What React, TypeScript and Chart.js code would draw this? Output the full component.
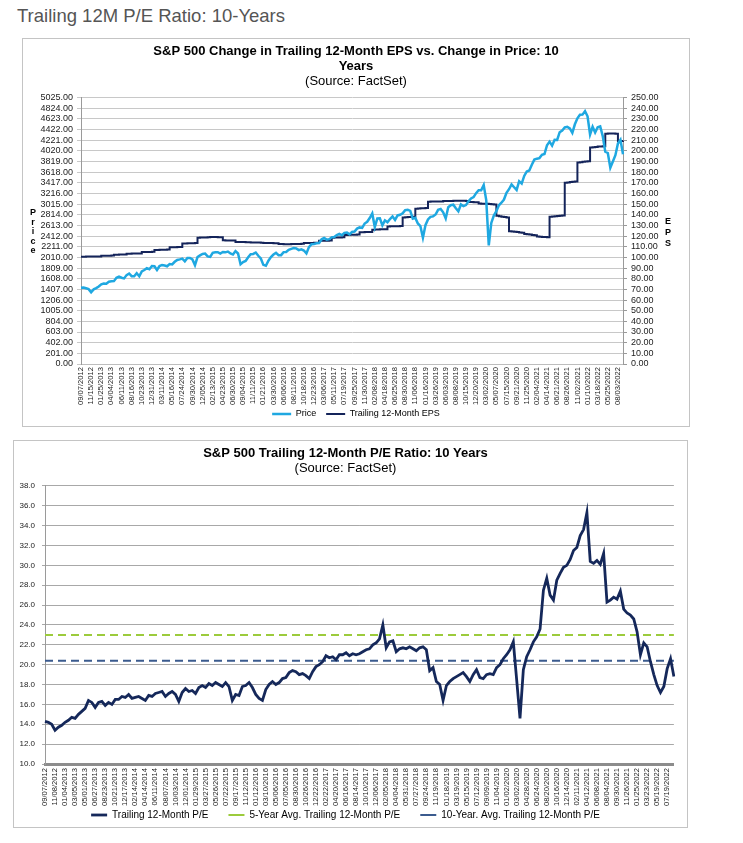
import { useEffect, useRef } from "react";
import { Chart, registerables } from "chart.js";

Chart.register(...registerables);

const FONT = "'Liberation Sans', Arial, sans-serif";

// ---------- Chart 1 data ----------
const priceTickLabels = [
  "09/07/2012", "11/15/2012", "01/25/2013", "04/04/2013", "06/11/2013", "08/16/2013", "10/23/2013", "12/31/2013",
  "03/11/2014", "05/16/2014", "07/24/2014", "09/30/2014", "12/05/2014", "02/13/2015", "04/23/2015", "06/30/2015",
  "09/04/2015", "11/11/2015", "01/21/2016", "03/30/2016", "06/06/2016", "08/11/2016", "10/18/2016", "12/23/2016",
  "03/06/2017", "05/11/2017", "07/19/2017", "09/25/2017", "11/30/2017", "02/08/2018", "04/18/2018", "06/25/2018",
  "08/30/2018", "11/06/2018", "01/16/2019", "03/26/2019", "06/03/2019", "08/08/2019", "10/15/2019", "12/20/2019",
  "03/02/2020", "05/07/2020", "07/15/2020", "09/21/2020", "11/25/2020", "02/04/2021", "04/14/2021", "06/21/2021",
  "08/26/2021", "11/02/2021", "01/10/2022", "03/18/2022", "05/25/2022", "08/03/2022",
];
const pointsPerPriceLabel = 4;

const priceValues = [
  1437, 1441, 1428, 1412, 1353, 1407, 1430, 1461, 1503, 1518, 1515, 1552, 1559, 1562, 1626, 1649,
  1626, 1613, 1676, 1706, 1655, 1653, 1710, 1655, 1746, 1771, 1807, 1786, 1848, 1844, 1773, 1847,
  1867, 1857, 1842, 1884, 1878, 1927, 1962, 1972, 1987, 1936, 2000, 1998, 1972, 1862, 2017, 2048,
  2075, 2082, 2028, 2021, 2097, 2108, 2108, 2081, 2112, 2105, 2120, 2084, 2063, 2128, 2083, 1880,
  1921, 1943, 2013, 2071, 2075, 2102, 2041, 1990, 1869, 1852, 1948, 2015, 2063, 2094, 2051, 2052,
  2109, 2113, 2152, 2170, 2185, 2180, 2147, 2161, 2139, 2085, 2203, 2259, 2263, 2275, 2279, 2351,
  2375, 2345, 2353, 2388, 2394, 2430, 2453, 2429, 2473, 2480, 2444, 2488, 2497, 2553, 2575, 2565,
  2648, 2681, 2751, 2839, 2581, 2744, 2747, 2614, 2708, 2672, 2733, 2782, 2717, 2801, 2813, 2840,
  2901, 2908, 2885, 2741, 2755, 2650, 2600, 2380, 2616, 2724, 2774, 2783, 2818, 2907, 2924, 2860,
  2744, 2954, 2993, 3004, 2938, 2878, 3007, 2977, 2996, 3067, 3120, 3146, 3221, 3275, 3276, 3374,
  3090, 2237, 2659, 2799, 2882, 2992, 3041, 3100, 3227, 3295, 3385, 3332, 3281, 3446, 3401, 3545,
  3630, 3647, 3756, 3853, 3871, 3881, 3943, 3959, 4124, 4192, 4116, 4226, 4224, 4370, 4401, 4460,
  4470, 4443, 4357, 4519, 4631, 4698, 4701, 4766, 4670, 4327, 4471, 4363, 4463, 4481, 4297, 4001,
  3978, 3700, 3818, 3937, 4155, 4228, 3955,
];

const epsValues = [
  100.6, 100.6,
  100.8, 100.8, 100.9, 100.8, 100.9, 100.9,
  101.5, 101.5, 101.6, 101.6, 101.7,
  102.5, 102.5, 102.6, 102.6, 102.7,
  103.5, 103.5, 103.6, 103.6, 103.7, 103.7,
  105.0, 105.0, 105.1, 105.1, 105.2,
  107.0, 107.0, 107.1, 107.2, 107.2, 107.3,
  109.5, 109.6, 109.6, 109.7, 109.8,
  113.0, 113.1, 113.2, 113.2, 113.3, 113.4,
  118.5, 118.6, 118.6, 118.7, 118.8,
  119.0, 119.1, 119.0, 118.9, 118.8,
  116.0, 115.9, 115.9, 115.8, 115.8,
  114.5, 114.5, 114.4, 114.4, 114.3, 114.3,
  114.0, 114.0, 113.9, 113.9, 113.8,
  113.5, 113.5, 113.4, 113.4, 113.3, 113.3,
  112.5, 112.5, 112.4, 112.4, 112.4,
  112.5, 112.5, 112.6, 112.6, 112.7,
  113.5, 113.5, 113.6, 113.6, 113.7, 113.7,
  115.5, 115.6, 115.6, 115.7, 115.8,
  118.5, 118.6, 118.7, 118.7, 118.8,
  121.0, 121.1, 121.2, 121.2, 121.3, 121.4,
  123.5, 123.6, 123.7, 123.8, 123.8,
  126.0, 126.1, 126.2, 126.3, 126.3, 126.4,
  129.0, 129.1, 129.2, 129.3, 129.3, 129.4,
  137.5, 137.6, 137.8, 137.9, 138.0,
  145.7, 145.8, 146.0, 146.1, 146.2,
  152.2, 152.3, 152.4, 152.4, 152.5, 152.5,
  152.8, 152.8, 152.9, 152.9, 153.0,
  153.0, 153.1, 153.1, 153.0, 152.9,
  152.0, 151.9, 151.8, 151.7,
  150.5, 150.4, 150.3, 150.2, 150.0, 149.8, 149.6,
  139.0, 138.6, 138.2, 137.8, 137.5,
  124.5, 124.2, 124.0, 123.7, 123.4, 123.2,
  122.0, 121.7, 121.4, 121.1, 120.8,
  119.5, 119.3, 119.1, 119.0, 118.9,
  138.0, 138.3, 138.6, 138.8, 139.0, 139.2,
  170.0, 170.3, 170.6, 170.9, 171.2,
  189.0, 189.3, 189.6, 189.9, 190.2,
  203.0, 203.3, 203.6, 203.9, 204.1, 204.3,
  216.0, 216.2, 216.3, 216.2, 216.0,
  209.0, 209.2, 209.4,
];

const priceAxisTicks = [
  0, 201, 402, 603, 804, 1005, 1206, 1407, 1608, 1809, 2010, 2211, 2412, 2613, 2814, 3015, 3216,
  3417, 3618, 3819, 4020, 4221, 4422, 4623, 4824, 5025,
];
const epsAxisTicks = [
  0, 10, 20, 30, 40, 50, 60, 70, 80, 90, 100, 110, 120, 130, 140, 150, 160, 170, 180, 190, 200,
  210, 220, 230, 240, 250,
];

// ---------- Chart 2 data ----------
const peTickLabels = [
  "09/07/2012", "11/08/2012", "01/04/2013", "03/05/2013", "05/01/2013", "06/27/2013", "08/23/2013", "10/21/2013",
  "12/17/2013", "02/14/2014", "04/14/2014", "06/11/2014", "08/07/2014", "10/03/2014", "12/01/2014", "01/29/2015",
  "03/27/2015", "05/26/2015", "07/22/2015", "09/17/2015", "11/12/2015", "01/12/2016", "03/10/2016", "05/06/2016",
  "07/05/2016", "08/30/2016", "10/26/2016", "12/22/2016", "02/22/2017", "04/20/2017", "06/16/2017", "08/14/2017",
  "10/10/2017", "12/06/2017", "02/05/2018", "04/04/2018", "05/31/2018", "07/27/2018", "09/24/2018", "11/19/2018",
  "01/18/2019", "03/19/2019", "05/15/2019", "07/12/2019", "09/09/2019", "11/04/2019", "01/02/2020", "03/02/2020",
  "04/28/2020", "06/24/2020", "08/20/2020", "10/16/2020", "12/14/2020", "02/11/2021", "04/12/2021", "06/08/2021",
  "08/04/2021", "09/30/2021", "11/26/2021", "01/25/2022", "03/23/2022", "05/19/2022", "07/19/2022",
];
const pointsPerPeLabel = 3;

const peValues = [
  14.3, 14.2, 14.0, 13.4, 13.7, 13.9, 14.2, 14.4, 14.7, 14.6, 15.0, 15.3, 15.6, 16.4, 16.2,
  15.7, 16.2, 16.3, 15.9, 16.2, 16.0, 16.5, 16.5, 16.8, 16.7, 17.0, 16.6, 16.7, 16.8, 16.6,
  16.4, 16.9, 16.8, 17.1, 17.2, 17.3, 16.8, 17.1, 17.3, 17.0, 16.3, 17.2, 17.6, 17.3, 17.4,
  17.1, 17.7, 17.9, 17.7, 18.1, 17.9, 18.2, 18.0, 17.8, 18.2, 17.8, 16.4, 17.0, 16.9, 17.8,
  17.9, 18.2, 17.7, 17.0, 16.6, 16.4, 17.5, 18.0, 18.3, 18.0, 18.2, 18.6, 18.7, 19.2, 19.4,
  19.3, 19.0, 19.1, 18.9, 18.6, 19.3, 19.8, 20.0, 20.3, 20.9, 20.7, 20.8, 20.5, 21.0, 21.0,
  21.2, 20.9, 21.1, 21.0, 21.1, 21.3, 21.5, 21.6, 22.0, 22.2, 22.6, 24.0, 21.7, 22.3, 22.4,
  21.3, 21.6, 21.7, 21.6, 21.8, 21.6, 21.4, 21.7, 21.8, 21.5, 19.4, 19.7, 18.3, 18.0, 16.4,
  17.9, 18.3, 18.6, 18.8, 19.0, 19.2, 18.8, 18.3, 19.0, 19.5, 18.7, 18.6, 19.0, 19.1, 19.0,
  19.7, 20.0, 20.6, 21.0, 21.5, 22.3, 18.5, 14.6, 19.5, 20.8, 21.5, 22.3, 22.8, 23.6, 27.5,
  28.7, 27.0, 26.5, 28.5, 29.2, 29.8, 30.0, 30.6, 31.5, 31.8, 33.0, 33.6, 35.3, 30.4, 30.2,
  30.5, 30.1, 31.2, 26.3, 26.5, 26.8, 26.6, 27.4, 25.6, 25.2, 25.0, 24.6, 23.3, 21.0, 22.2,
  21.8, 20.3, 19.0, 17.9, 17.2, 17.8, 19.6, 20.6, 18.8,
];
const fiveYearAvgPE = 23.0;
const tenYearAvgPE = 20.4;
const peAxisTicks = [10, 12, 14, 16, 18, 20, 22, 24, 26, 28, 30, 32, 34, 36, 38];

function buildCategoryLabels(tickLabels: string[], perLabel: number, total: number): string[] {
  const out: string[] = [];
  for (let i = 0; i < total; i++) {
    out.push(i % perLabel === 0 && tickLabels[i / perLabel] ? tickLabels[i / perLabel] : "");
  }
  return out;
}

const stackedAxisTitles = {
  id: "stackedAxisTitles",
  afterDraw(chart: any, _args: any, opts: any) {
    const { ctx, chartArea } = chart;
    (opts.items || []).forEach((item: any) => {
      ctx.save();
      ctx.font = item.font;
      ctx.fillStyle = item.color;
      ctx.textAlign = "center";
      ctx.textBaseline = "middle";
      const letters = item.text.split("");
      const cy = (chartArea.top + chartArea.bottom) / 2 + (item.dy || 0);
      const start = cy - ((letters.length - 1) * item.lineHeight) / 2;
      const x = item.side === "left" ? item.offset : chart.width - item.offset;
      letters.forEach((ch: string, i: number) => ctx.fillText(ch, x, start + i * item.lineHeight));
      ctx.restore();
    });
  },
};

// x-axis: fixed height, rotated labels allowed to run below the axis box
function fixXAxis(height: number) {
  return (s: any) => {
    s.height = height;
    s._computeLabelArea = () => null;
  };
}

function PriceEpsChart() {
  const ref = useRef<HTMLCanvasElement | null>(null);
  useEffect(() => {
    if (!ref.current) return;
    const labels = buildCategoryLabels(priceTickLabels, pointsPerPriceLabel, priceValues.length);
    const chart = new Chart(ref.current, {
      type: "line",
      data: {
        labels,
        datasets: [
          {
            label: "Price",
            data: priceValues,
            borderColor: "#1fa8e1",
            backgroundColor: "#1fa8e1",
            borderWidth: 2.5,
            pointRadius: 0,
            yAxisID: "y",
          },
          {
            label: "Trailing 12-Month EPS",
            data: epsValues,
            borderColor: "#14245a",
            backgroundColor: "#14245a",
            borderWidth: 2,
            pointRadius: 0,
            stepped: true,
            yAxisID: "y1",
          },
        ],
      },
      plugins: [stackedAxisTitles],
      options: {
        responsive: false,
        animation: false,
        layout: { padding: 0 },
        plugins: {
          title: {
            display: true,
            text: ["S&P 500 Change in Trailing 12-Month EPS vs. Change in Price: 10", "Years"],
            color: "#000",
            font: { family: FONT, size: 13, weight: "bold", lineHeight: 1.15 },
            padding: { top: 5, bottom: 0 },
          },
          subtitle: {
            display: true,
            text: "(Source: FactSet)",
            color: "#000",
            font: { family: FONT, size: 13, lineHeight: 1.15 },
            padding: { top: 0, bottom: 8.6 },
          },
          legend: {
            position: "bottom",
            maxHeight: 26.5,
            labels: {
              usePointStyle: true,
              pointStyle: "line",
              pointStyleWidth: 19,
              color: "#000",
              font: { family: FONT, size: 9 },
              padding: 10,
            },
          },
          tooltip: { enabled: false },
          stackedAxisTitles: {
            items: [
              { text: "Price", side: "left", offset: 10, lineHeight: 9.6, font: `bold 9px ${FONT}`, color: "#000", dy: 1 },
              { text: "EPS", side: "right", offset: 21, lineHeight: 11, font: `bold 9px ${FONT}`, color: "#000", dy: 2 },
            ],
          },
        } as any,
        scales: {
          x: {
            type: "category",
            grid: { display: false, drawTicks: false },
            border: { display: true, color: "#bdbdbd" },
            ticks: {
              autoSkip: false,
              maxRotation: 90,
              minRotation: 90,
              padding: 3,
              color: "#222",
              font: { family: FONT, size: 7.6 },
            },
            afterFit: fixXAxis(35.5),
          },
          y: {
            position: "left",
            min: 0,
            max: 5025,
            afterBuildTicks(s: any) {
              s.ticks = priceAxisTicks.map((v) => ({ value: v }));
            },
            ticks: {
              autoSkip: false,
              callback: (v: any) => Number(v).toFixed(2),
              color: "#222",
              font: { family: FONT, size: 9 },
              padding: 4,
            },
            grid: { color: "#c8c8c8", tickLength: 4 },
            border: { color: "#9a9a9a" },
            afterFit(s: any) {
              s.width = 58;
            },
          },
          y1: {
            position: "right",
            min: 0,
            max: 250,
            afterBuildTicks(s: any) {
              s.ticks = epsAxisTicks.map((v) => ({ value: v }));
            },
            ticks: {
              autoSkip: false,
              callback: (v: any) => Number(v).toFixed(2),
              color: "#222",
              font: { family: FONT, size: 9 },
              padding: 4,
            },
            grid: { drawOnChartArea: false, color: "#9a9a9a", tickLength: 4 },
            border: { color: "#9a9a9a" },
            afterFit(s: any) {
              s.width = 66;
            },
          },
        },
      },
    });
    return () => chart.destroy();
  }, []);
  return <canvas ref={ref} width={666} height={387} style={{ display: "block" }} />;
}

function PeChart() {
  const ref = useRef<HTMLCanvasElement | null>(null);
  useEffect(() => {
    if (!ref.current) return;
    const labels = buildCategoryLabels(peTickLabels, pointsPerPeLabel, peValues.length);
    const chart = new Chart(ref.current, {
      type: "line",
      data: {
        labels,
        datasets: [
          {
            label: "Trailing 12-Month P/E",
            data: peValues,
            borderColor: "#15285a",
            backgroundColor: "#15285a",
            borderWidth: 2.8,
            pointRadius: 0,
          },
          {
            label: "5-Year Avg. Trailing 12-Month P/E",
            data: peValues.map(() => fiveYearAvgPE),
            borderColor: "#9ccb3c",
            backgroundColor: "#9ccb3c",
            borderWidth: 2,
            borderDash: [8, 5],
            pointRadius: 0,
          },
          {
            label: "10-Year. Avg. Trailing 12-Month P/E",
            data: peValues.map(() => tenYearAvgPE),
            borderColor: "#3b5b8e",
            backgroundColor: "#3b5b8e",
            borderWidth: 2,
            borderDash: [8, 5],
            pointRadius: 0,
          },
        ],
      },
      options: {
        responsive: false,
        animation: false,
        layout: { padding: { left: 0, right: 10, top: 0, bottom: 0 } },
        plugins: {
          title: {
            display: true,
            text: "S&P 500 Trailing 12-Month P/E Ratio: 10 Years",
            color: "#000",
            font: { family: FONT, size: 13, weight: "bold", lineHeight: 1.15 },
            padding: { top: 5, bottom: 0 },
          },
          subtitle: {
            display: true,
            text: "(Source: FactSet)",
            color: "#000",
            font: { family: FONT, size: 13, lineHeight: 1.15 },
            padding: { top: 0, bottom: 10 },
          },
          legend: {
            position: "bottom",
            maxHeight: 37,
            labels: {
              usePointStyle: true,
              pointStyle: "line",
              pointStyleWidth: 16,
              color: "#000",
              font: { family: FONT, size: 10 },
              padding: 20,
            },
          },
          tooltip: { enabled: false },
        },
        scales: {
          x: {
            type: "category",
            grid: { display: false, drawTicks: false },
            border: { display: true, color: "#8c8c8c", width: 3 },
            ticks: {
              autoSkip: false,
              maxRotation: 90,
              minRotation: 90,
              padding: 4,
              color: "#222",
              font: { family: FONT, size: 7.6 },
            },
            afterFit: fixXAxis(26),
          },
          y: {
            position: "left",
            min: 10,
            max: 38,
            afterBuildTicks(s: any) {
              s.ticks = peAxisTicks.map((v) => ({ value: v }));
            },
            ticks: {
              autoSkip: false,
              callback: (v: any) => Number(v).toFixed(1),
              color: "#222",
              font: { family: FONT, size: 8 },
              padding: 7,
            },
            grid: { color: "#a8a8a8", tickLength: 3 },
            border: { color: "#9a9a9a" },
            afterFit(s: any) {
              s.width = 31;
            },
          },
        },
      },
    });
    return () => chart.destroy();
  }, []);
  return <canvas ref={ref} width={673} height={386} style={{ display: "block" }} />;
}

export default function App() {
  return (
    <div
      style={{
        position: "absolute",
        left: 0,
        top: 0,
        width: 743,
        height: 843,
        background: "#fff",
        fontFamily: FONT,
      }}
    >
      <div
        style={{
          position: "absolute",
          left: 17,
          top: 5,
          fontSize: 18.5,
          color: "#555",
          whiteSpace: "nowrap",
        }}
      >
        Trailing 12M P/E Ratio: 10-Years
      </div>
      <div
        style={{
          position: "absolute",
          left: 22,
          top: 38,
          width: 668,
          height: 389,
          boxSizing: "border-box",
          border: "1px solid #c4c4c4",
        }}
      >
        <PriceEpsChart />
      </div>
      <div
        style={{
          position: "absolute",
          left: 13,
          top: 440,
          width: 675,
          height: 388,
          boxSizing: "border-box",
          border: "1px solid #c4c4c4",
        }}
      >
        <PeChart />
      </div>
    </div>
  );
}
